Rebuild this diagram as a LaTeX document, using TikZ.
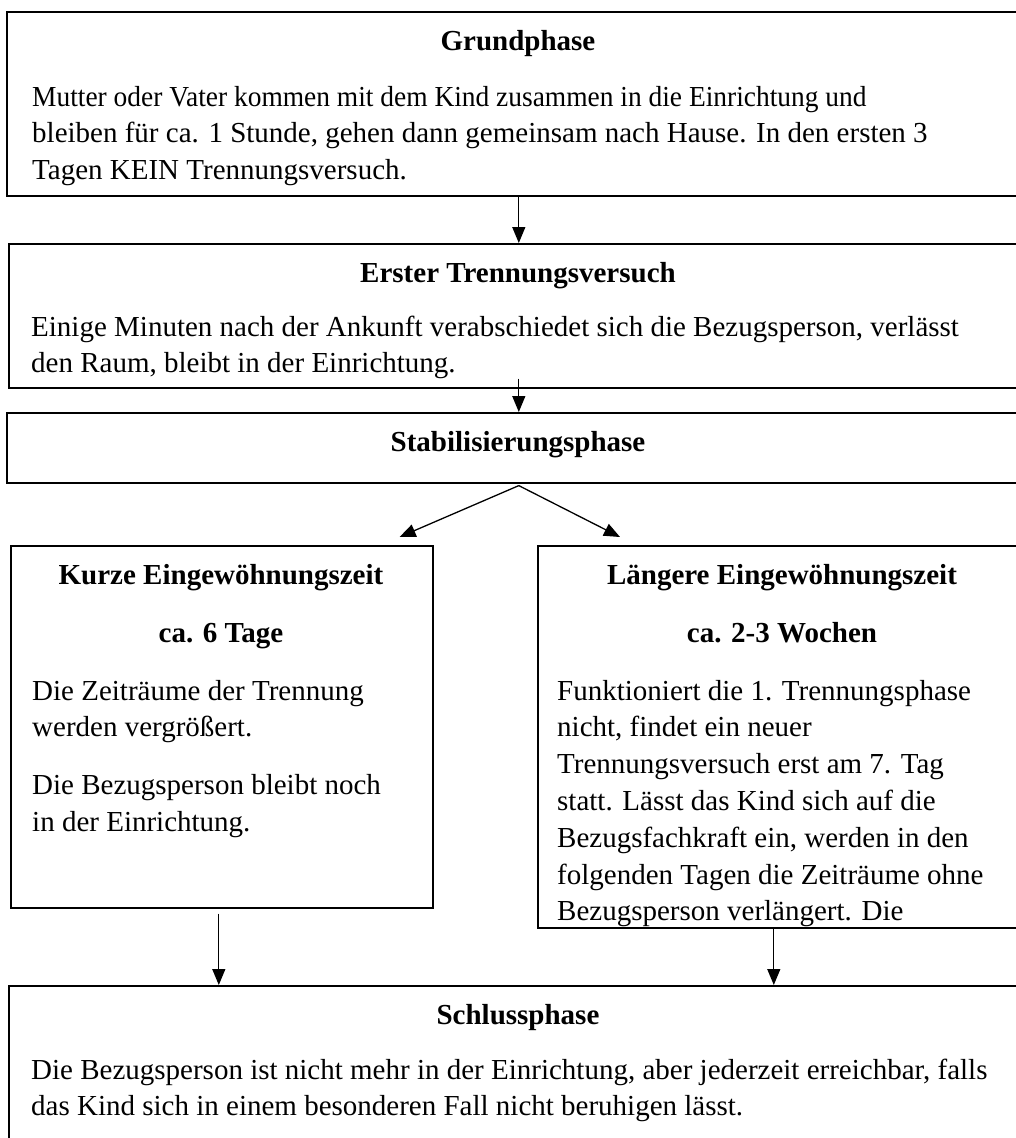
\documentclass[tikz,border=0pt]{standalone}
\usepackage{fontspec}
\setmainfont{Liberation Serif}
\usetikzlibrary{arrows.meta}

\begin{document}
\begin{tikzpicture}
  [x=1pt,y=-1pt,
   every node/.style={inner sep=0pt,font=\fontsize{29}{36.8}\selectfont},
   kasten/.style={draw,line width=1.6pt,anchor=north west},
   titel/.style={anchor=base,align=center,font=\fontsize{29}{36.8}\selectfont\bfseries},
   inhalt/.style={anchor=base west,align=left},
   pfeil/.style={line width=1.3pt,-{Triangle[length=16pt,width=13pt]}}]
  \useasboundingbox (0,0) rectangle (1016,1138);
  \clip (0,0) rectangle (1016,1138);

  \node[kasten,minimum width=1024,minimum height=184] (grund)   at (6,11)   {};
  \node[kasten,minimum width=1020,minimum height=144] (erster)  at (8,243)  {};
  \node[kasten,minimum width=1024,minimum height=70]  (stab)    at (6,412)  {};
  \node[kasten,minimum width=422,minimum height=362]  (kurz)    at (10,545) {};
  \node[kasten,minimum width=490,minimum height=382]  (lang)    at (537,545) {};
  \node[kasten,minimum width=1020,minimum height=200] (schluss) at (8,985)  {};

  % base = Grundlinie der letzten Zeile
  \node[titel] (t1) at (518,50)  {Grundphase};
  \node[inhalt] (i1) at (32,179.6) {\scalebox{0.946}[1]{Mutter oder Vater kommen mit dem Kind zusammen in die Einrichtung und}\\
    bleiben für ca. 1 Stunde, gehen dann gemeinsam nach Hause. In den ersten 3\\
    Tagen KEIN Trennungsversuch.};

  \node[titel] (t2) at (518,282) {Erster Trennungsversuch};
  \node[inhalt] (i2) at (31,372.8) {Einige Minuten nach der Ankunft verabschiedet sich die Bezugsperson, verlässt\\
    den Raum, bleibt in der Einrichtung.};

  \node[titel] (t3) at (518,451) {Stabilisierungsphase};

  \node[titel] (t4) at (221,642) {Kurze Eingewöhnungszeit\\[21.2pt]ca. 6 Tage};
  \node[inhalt] (i4) at (32,831.6) {Die Zeiträume der Trennung\\
    werden vergrößert.\\[21.2pt]
    Die Bezugsperson bleibt noch\\
    in der Einrichtung.};

  \node[titel] (t5) at (782,642) {Längere Eingewöhnungszeit\\[21.2pt]ca. 2-3 Wochen};
  \begin{scope}
    \clip (lang.south west) rectangle (lang.north east);
    \node[inhalt] (i5) at (557,920.8) {Funktioniert die 1. Trennungsphase\\
      nicht, findet ein neuer\\
      Trennungsversuch erst am 7. Tag\\
      statt. Lässt das Kind sich auf die\\
      Bezugsfachkraft ein, werden in den\\
      folgenden Tagen die Zeiträume ohne\\
      Bezugsperson verlängert. Die};
  \end{scope}

  \node[titel] (t6) at (518,1024) {Schlussphase};
  \node[inhalt] (i6) at (31,1115.8) {Die Bezugsperson ist nicht mehr in der Einrichtung, aber jederzeit erreichbar, falls\\
    das Kind sich in einem besonderen Fall nicht beruhigen lässt.};

  % Pfeile
  \draw[pfeil] (grund) -- (erster);
  \draw[pfeil] ([yshift=10pt]erster.south) -- (stab.north);
  \draw[pfeil] ([yshift=-2pt]stab.south) -- ([xshift=-34pt,yshift=8pt]kurz.north east);
  \draw[pfeil] ([yshift=-2pt]stab.south) -- ([xshift=83pt,yshift=8pt]lang.north west);
  \foreach \k/\dx/\dy in {kurz/-3/5,lang/-9/0}
    \draw[pfeil] ([xshift=\dx pt,yshift=-\dy pt]\k.south) -- ([xshift=\dx pt]\k.south |- schluss.north);

\end{tikzpicture}
\end{document}
